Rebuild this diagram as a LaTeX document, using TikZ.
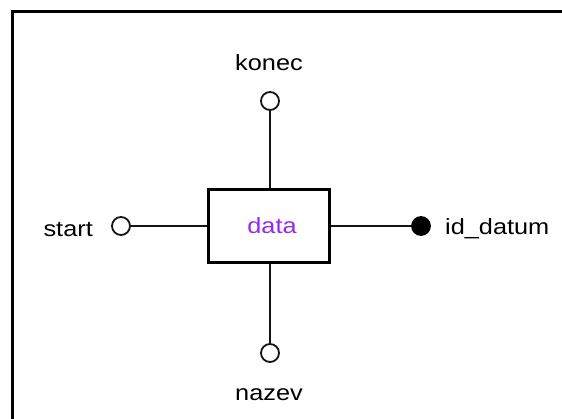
\documentclass[tikz,border=0pt]{standalone}
\usepackage{fontspec}
\setmainfont{Liberation Sans}
\definecolor{entviolet}{RGB}{150,40,240}
\definecolor{linegray}{RGB}{20,20,20}
\begin{document}
\begin{tikzpicture}[x=1pt,y=-1pt,
  lbl/.style={inner sep=0pt,font=\fontsize{22}{25}\selectfont,text=black},
  attr/.style={circle,draw=linegray,line width=1.8pt,minimum size=18pt,inner sep=0pt,fill=white},
  keyattr/.style={attr,fill=black,draw=black},
  entity/.style={draw=black,line width=3pt,minimum width=121pt,minimum height=73pt,inner sep=0pt,fill=white},
  conn/.style={draw=linegray,line width=1.8pt}]
\useasboundingbox (0,0) rectangle (562,418);
\begin{scope}
\clip (0,0) rectangle (562,418);
\draw[line width=3pt] (12,11.5) rectangle (620,480);
\end{scope}
\node[entity] (data) at (269,226) {};
\node[inner sep=0pt,font=\fontsize{22}{25}\selectfont,text=entviolet] (datalbl) at (272,226) {\scalebox{1.15}[1]{data}};
\node[attr] (konec) at (270,101) {};
\node[attr] (nazev) at (270,353) {};
\node[attr] (start) at (121,226) {};
\node[keyattr] (iddatum) at (421,226) {};
\draw[conn] (konec) -- (konec |- data.north);
\draw[conn] (nazev) -- (nazev |- data.south);
\draw[conn] (start) -- (data.west);
\draw[conn] (iddatum) -- (data.east);
\node[lbl] (tkonec) at (269,63) {\scalebox{1.15}[1]{konec}};
\node[lbl] (tnazev) at (269,395) {\scalebox{1.15}[1]{nazev}};
\node[lbl,anchor=east] (tstart) at (93,229) {\scalebox{1.15}[1]{start}};
\node[lbl,anchor=west] (tid) at (445,229) {\scalebox{1.15}[1]{id\_datum}};
\end{tikzpicture}
\end{document}
